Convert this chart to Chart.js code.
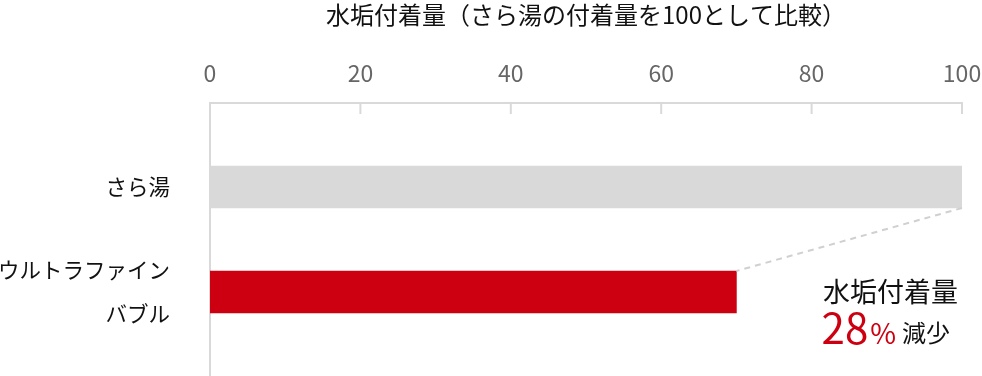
<!DOCTYPE html>
<html lang="ja">
<head>
<meta charset="utf-8">
<script src="https://cdn.jsdelivr.net/npm/chart.js@4.4.1/dist/chart.umd.min.js"></script>
<style>
    html, body { margin: 0; padding: 0; background: #fff; }
    #wrap { width: 982px; height: 376px; }
</style>
</head>
<body>
<div id="wrap"><canvas id="chart" width="982" height="376"></canvas></div>
<script>
const chartTitle = '水垢付着量（さら湯の付着量を100として比較）';
const categories = ['さら湯', ['ウルトラファイン', 'バブル']];
const values = [100, 70];
const barColors = ['#d9d9d9', '#cc0011'];
const xTicks = [0, 20, 40, 60, 80, 100];
const noteTitle = '水垢付着量';
const noteValue = '28';
const noteUnit = '%';
const noteWord = '減少';

const FONT = "'Noto Sans CJK JP', 'Noto Sans', sans-serif";
const AXIS_COLOR = '#d9d9d9';

// inner tick marks, dashed connector and the reduction note
const decorations = {
    id: 'decorations',
    afterDatasetsDraw(chart) {
        const { ctx, chartArea, scales } = chart;
        const x = scales.x;
        ctx.save();

        ctx.strokeStyle = AXIS_COLOR;
        ctx.lineWidth = 2;
        xTicks.slice(1).forEach(v => {
            const px = x.getPixelForValue(v);
            ctx.beginPath();
            ctx.moveTo(px, chartArea.top);
            ctx.lineTo(px, chartArea.top + 11);
            ctx.stroke();
        });

        const bars = chart.getDatasetMeta(0).data;
        const a = bars[0], b = bars[1];
        ctx.strokeStyle = '#d0d0d0';
        ctx.setLineDash([6, 5]);
        ctx.beginPath();
        ctx.moveTo(a.x, a.y + a.height / 2);
        ctx.lineTo(b.x, b.y - b.height / 2);
        ctx.stroke();
        ctx.setLineDash([]);

        // note text
        const right = chartArea.right - 4;
        ctx.fillStyle = '#111';
        ctx.textAlign = 'right';
        ctx.textBaseline = 'middle';
        ctx.font = '27px ' + FONT;
        ctx.fillText(noteTitle, right, b.y);

        const base = b.y + 52;
        ctx.textAlign = 'left';
        ctx.textBaseline = 'alphabetic';
        ctx.font = '42px ' + FONT;
        const wVal = ctx.measureText(noteValue).width;
        ctx.font = '28px ' + FONT;
        const wUnit = ctx.measureText(noteUnit).width;
        ctx.font = '24px ' + FONT;
        const wWord = ctx.measureText(noteWord).width;
        let px = right - 8 - (wVal + 2 + wUnit + 6 + wWord);

        ctx.fillStyle = barColors[1];
        ctx.font = '42px ' + FONT;
        ctx.fillText(noteValue, px, base);
        px += wVal + 2;
        ctx.font = '28px ' + FONT;
        ctx.fillText(noteUnit, px, base);
        px += wUnit + 6;
        ctx.fillStyle = '#111';
        ctx.font = '24px ' + FONT;
        ctx.fillText(noteWord, px, base - 2);

        ctx.restore();
    }
};

const ctx = document.getElementById('chart').getContext('2d');
new Chart(ctx, {
    type: 'bar',
    data: {
        datasets: [{
            data: categories.map((c, i) => ({ x: values[i], y: i })),
            backgroundColor: barColors,
            borderWidth: 0,
            barThickness: 42
        }]
    },
    options: {
        indexAxis: 'y',
        responsive: false,
        animation: false,
        layout: { padding: { left: 0, right: 20, top: 0, bottom: 0 } },
        plugins: {
            legend: { display: false },
            tooltip: { enabled: false },
            title: {
                display: true,
                text: chartTitle,
                fullSize: false,
                color: '#111',
                font: { family: FONT, size: 24, weight: 'normal' },
                padding: { top: 0, bottom: 0 }
            }
        },
        scales: {
            x: {
                type: 'linear',
                position: 'top',
                min: 0,
                max: 100,
                grid: { display: false, drawTicks: false },
                border: { display: true, color: AXIS_COLOR, width: 2 },
                ticks: {
                    stepSize: 20,
                    padding: 16,
                    color: '#666',
                    font: { family: FONT, size: 23 }
                },
                afterBuildTicks: scale => { scale.ticks = xTicks.map(v => ({ value: v })); },
                afterFit: scale => {
                    scale.height = 103 - 28.8;
                    scale.paddingLeft = 0;
                    scale.paddingRight = 0;
                }
            },
            y: {
                type: 'linear',
                reverse: true,
                offset: false,
                min: -0.8,
                max: 1.8,
                grid: { display: false, drawTicks: false },
                border: { display: true, color: AXIS_COLOR, width: 2 },
                ticks: {
                    padding: 40,
                    color: '#111',
                    font: { family: FONT, size: 21.5, lineHeight: 2.05 },
                    callback: v => categories[v]
                },
                afterBuildTicks: scale => { scale.ticks = categories.map((c, i) => ({ value: i })); },
                afterFit: scale => {
                    scale.width = 210;
                    scale.paddingTop = 0;
                    scale.paddingBottom = 0;
                }
            }
        }
    },
    plugins: [decorations]
});
</script>
</body>
</html>
